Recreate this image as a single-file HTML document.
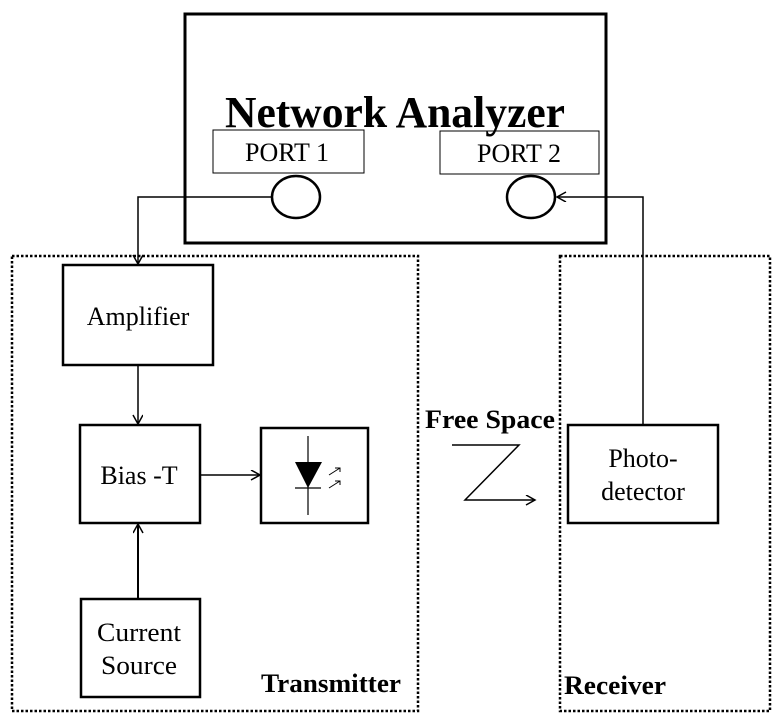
<!DOCTYPE html>
<html><head><meta charset="utf-8"><style>html,body{margin:0;padding:0;background:#fff}svg{display:block}</style></head>
<body>
<svg width="775" height="722" viewBox="0 0 775 722" xmlns="http://www.w3.org/2000/svg" font-family="Liberation Serif, serif">
<defs>
<marker id="a" markerWidth="12" markerHeight="12" refX="10" refY="5" orient="auto" markerUnits="userSpaceOnUse">
<path d="M1,0 L10,5 L1,10" fill="none" stroke="#000" stroke-width="1.5"/></marker>
</defs>
<g fill="none" stroke="#000">
<rect x="185" y="14" width="421" height="229" stroke-width="3"/>
<rect x="213" y="130" width="151" height="43" stroke-width="1"/>
<rect x="440" y="131" width="159" height="43" stroke-width="1"/>
<ellipse cx="296" cy="197" rx="24" ry="21" stroke-width="2.5"/>
<ellipse cx="531" cy="197" rx="24" ry="21" stroke-width="2.5"/>
<rect x="12" y="256" width="406" height="455" stroke-width="2.5" stroke-dasharray="2.5,2"/>
<rect x="560" y="256" width="210" height="455" stroke-width="2.5" stroke-dasharray="2.5,2"/>
<rect x="63" y="265" width="150" height="100" stroke-width="2.5"/>
<rect x="80" y="425" width="120" height="98" stroke-width="2.5"/>
<rect x="261" y="428" width="107" height="95" stroke-width="2.5"/>
<rect x="81" y="599" width="119" height="98" stroke-width="2.5"/>
<rect x="568" y="425" width="150" height="98" stroke-width="2.5"/>
<path d="M272,197 H138 V264" stroke-width="1.5" marker-end="url(#a)"/>
<path d="M643,425 V197 H557" stroke-width="1.5" marker-end="url(#a)"/>
<path d="M138,365 V424" stroke-width="1.5" marker-end="url(#a)"/>
<path d="M200,475 H260" stroke-width="1.5" marker-end="url(#a)"/>
<path d="M138,598 V524" stroke-width="2" marker-end="url(#a)"/>
<path d="M452,445 H519 L465,500 H535" stroke-width="1.5" marker-end="url(#a)"/>
<path d="M308,436 V515 M295,488 H321" stroke-width="1.2"/>
<path d="M329,475 L340,468 M335,468 H340 V472 M329,488 L340,481 M335,481 H340 V485" stroke-width="1"/>
</g>
<path d="M295,462 H322 L308,488 Z" fill="#000"/>
<g fill="#000" text-anchor="middle">
<text x="395" y="127" font-size="44" font-weight="bold" textLength="340" lengthAdjust="spacingAndGlyphs">Network Analyzer</text>
<text x="287" y="161" font-size="26">PORT 1</text>
<text x="519" y="162" font-size="26">PORT 2</text>
<text x="138" y="325" font-size="26">Amplifier</text>
<text x="139" y="484" font-size="26">Bias -T</text>
<text x="139" y="641" font-size="26" textLength="84" lengthAdjust="spacingAndGlyphs">Current</text>
<text x="139" y="674" font-size="26" textLength="76" lengthAdjust="spacingAndGlyphs">Source</text>
<text x="643" y="467" font-size="26">Photo-</text>
<text x="643" y="500" font-size="26">detector</text>
<text x="490" y="428" font-size="26" font-weight="bold" textLength="130" lengthAdjust="spacingAndGlyphs">Free Space</text>
<text x="331" y="692" font-size="26" font-weight="bold" textLength="140" lengthAdjust="spacingAndGlyphs">Transmitter</text>
<text x="615" y="694" font-size="26" font-weight="bold" textLength="102" lengthAdjust="spacingAndGlyphs">Receiver</text>
</g>
</svg>
</body></html>
